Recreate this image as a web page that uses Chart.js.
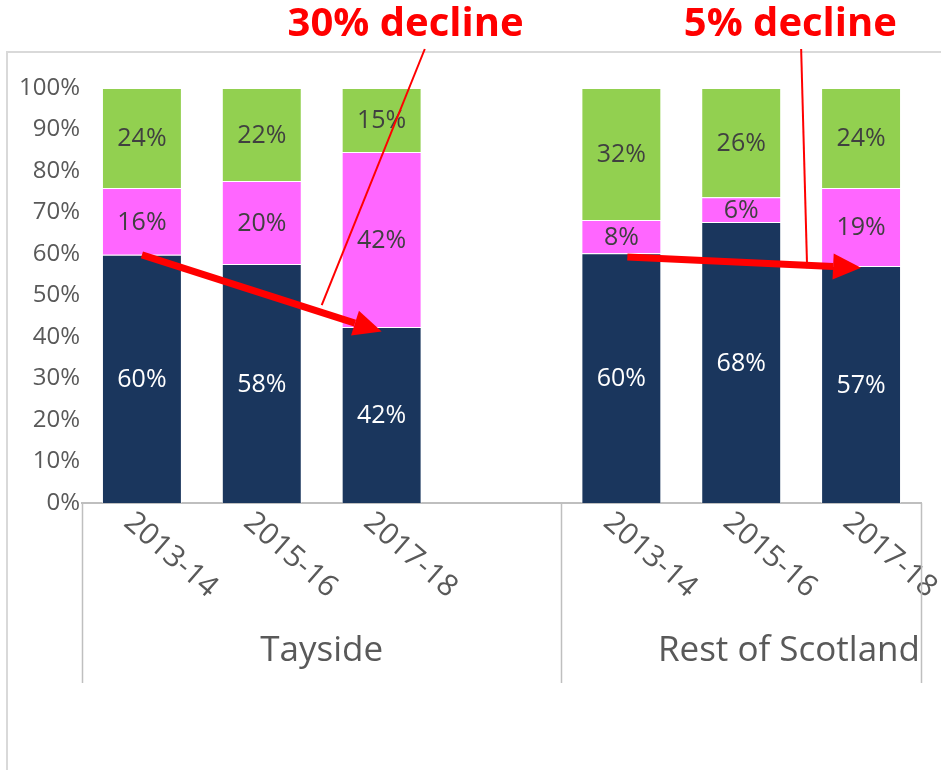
<!DOCTYPE html>
<html>
<head>
<meta charset="utf-8">
<script src="https://cdn.jsdelivr.net/npm/chart.js@4.4.1/dist/chart.umd.min.js"></script>
<style>
  html, body { margin: 0; padding: 0; background: #fff; }
</style>
</head>
<body>
<canvas id="chartDecline" width="941" height="770"></canvas>
<script>
// ---------- data ----------
// the empty slot is the gap between the two groups
const periods = ['2013-14', '2015-16', '2017-18', '', '2013-14', '2015-16', '2017-18'];
const groupNames = ['Tayside', 'Rest of Scotland'];
const groupFirst = [0, 4];   // first slot of each group
const groupLast = [3, 6];    // last slot of each group

const seriesNames = ['Series 1', 'Series 2', 'Series 3'];
const bottomValues = [59.8, 57.6, 42.4, null, 60.2, 67.7, 57.1];
const middleValues = [16.1, 20.0, 42.2, null, 8.0, 6.0, 18.8];
const topValues = [24.1, 22.4, 15.4, null, 31.8, 26.3, 24.1];

const yMax = 100;
const yStep = 10;

// annotations: [slot index, value]
const declineLabels = ['30% decline', '5% decline'];
const arrowFrom = [[0, 59.8], [4.05, 59.3]];
const arrowTo = [[2, 41.3], [6, 56.7]];
const calloutAt = [[1.5, 47.7], [5.55, 56.6]];
const calloutTop = [2.36, 5.5];
const labelCenter = [2.2, 5.41];

// ---------- style ----------
const FONT = "'Open Sans', 'DejaVu Sans', sans-serif";
const colNavy = '#1A365D';
const colPink = '#FF66FF';
const colGreen = '#92D050';
const colText = '#595959';
const colLine = '#BFBFBF';

function xAt(chart, i) {
    const s = chart.scales.x;
    const p0 = s.getPixelForValue(0), p1 = s.getPixelForValue(1);
    return p0 + i * (p1 - p0);
}

function drawArrow(ctx, x1, y1, x2, y2) {
    const ang = Math.atan2(y2 - y1, x2 - x1);
    const headLen = 28, headW = 13;
    const bx = x2 - headLen * Math.cos(ang), by = y2 - headLen * Math.sin(ang);
    ctx.strokeStyle = '#FF0000';
    ctx.fillStyle = '#FF0000';
    ctx.lineWidth = 7;
    ctx.beginPath();
    ctx.moveTo(x1, y1);
    ctx.lineTo(bx, by);
    ctx.stroke();
    ctx.beginPath();
    ctx.moveTo(x2, y2);
    ctx.lineTo(bx + headW * Math.sin(ang), by - headW * Math.cos(ang));
    ctx.lineTo(bx - headW * Math.sin(ang), by + headW * Math.cos(ang));
    ctx.closePath();
    ctx.fill();
}

// bar value labels
const valueLabels = {
    id: 'valueLabels',
    afterDatasetsDraw(chart) {
        const ctx = chart.ctx;
        ctx.save();
        ctx.font = '25px ' + FONT;
        ctx.textAlign = 'center';
        ctx.textBaseline = 'middle';
        chart.data.datasets.forEach((ds, di) => {
            const meta = chart.getDatasetMeta(di);
            meta.data.forEach((bar, i) => {
                const v = ds.data[i];
                if (v === null) return;
                ctx.fillStyle = di === 0 ? '#FFFFFF' : '#404040';
                ctx.fillText(Math.round(v) + '%', bar.x, (bar.y + bar.base) / 2 + 1);
            });
        });
        ctx.restore();
    }
};

// frame, category labels, group labels, arrows and callouts
const overlay = {
    id: 'overlay',
    beforeDraw(chart) {
        const ctx = chart.ctx;
        ctx.save();
        ctx.strokeStyle = '#D9D9D9';
        ctx.lineWidth = 2;
        ctx.strokeRect(7, 52, 1000, 1000);
        ctx.restore();
    },
    afterDraw(chart) {
        const ctx = chart.ctx;
        const area = chart.chartArea;
        const ys = chart.scales.y;
        const slot = xAt(chart, 1) - xAt(chart, 0);
        ctx.save();

        // rotated period labels
        ctx.fillStyle = colText;
        ctx.font = '30px ' + FONT;
        ctx.textAlign = 'left';
        ctx.textBaseline = 'top';
        periods.forEach((p, i) => {
            if (!p) return;
            ctx.save();
            ctx.translate(xAt(chart, i) - 4, area.bottom + 4);
            ctx.rotate(41 * Math.PI / 180);
            ctx.fillText(p, 0, 0);
            ctx.restore();
        });

        // group separators and names
        ctx.strokeStyle = colLine;
        ctx.lineWidth = 1.5;
        const edges = [xAt(chart, groupFirst[0]) - slot / 2];
        groupLast.forEach(l => edges.push(xAt(chart, l) + slot / 2));
        edges.forEach(x => {
            ctx.beginPath();
            ctx.moveTo(Math.round(x) + 0.5, area.bottom);
            ctx.lineTo(Math.round(x) + 0.5, area.bottom + 180);
            ctx.stroke();
        });
        ctx.font = '35px ' + FONT;
        ctx.textBaseline = 'middle';
        groupNames.forEach((g, k) => {
            const l = xAt(chart, groupFirst[k]) - slot / 2;
            const r = xAt(chart, groupLast[k]) + slot / 2;
            if (k === groupNames.length - 1) {
                // the last name runs against the right edge
                ctx.textAlign = 'right';
                ctx.fillText(g, r - 1, area.bottom + 148);
            } else {
                ctx.textAlign = 'center';
                ctx.fillText(g, (l + r) / 2, area.bottom + 148);
            }
        });

        // arrows
        arrowFrom.forEach((a, k) => {
            const b = arrowTo[k];
            drawArrow(ctx, xAt(chart, a[0]), ys.getPixelForValue(a[1]),
                xAt(chart, b[0]), ys.getPixelForValue(b[1]));
        });

        // callout lines and text
        ctx.strokeStyle = '#FF0000';
        ctx.lineWidth = 2;
        calloutAt.forEach((c, k) => {
            ctx.beginPath();
            ctx.moveTo(xAt(chart, calloutTop[k]), 49);
            ctx.lineTo(xAt(chart, c[0]), ys.getPixelForValue(c[1]));
            ctx.stroke();
        });
        ctx.fillStyle = '#FF0000';
        ctx.font = 'bold 40px ' + FONT;
        ctx.textAlign = 'center';
        ctx.textBaseline = 'middle';
        declineLabels.forEach((t, k) => {
            ctx.fillText(t, xAt(chart, labelCenter[k]), 25);
        });
        ctx.restore();
    }
};

function makeDataset(label, data, color) {
    return {
        label: label,
        data: data,
        backgroundColor: color,
        borderColor: 'rgba(255,255,255,0.55)',
        borderWidth: 1,
        barPercentage: 0.667,
        categoryPercentage: 1.0
    };
}

const ctx = document.getElementById('chartDecline').getContext('2d');
new Chart(ctx, {
    type: 'bar',
    data: {
        labels: periods,
        datasets: [
            makeDataset(seriesNames[0], bottomValues, colNavy),
            makeDataset(seriesNames[1], middleValues, colPink),
            makeDataset(seriesNames[2], topValues, colGreen)
        ]
    },
    options: {
        responsive: false,
        animation: false,
        layout: { padding: { top: 88, right: 20, left: 0, bottom: 0 } },
        plugins: {
            legend: { display: false },
            tooltip: { enabled: false }
        },
        scales: {
            x: {
                stacked: true,
                grid: { display: false, drawTicks: false },
                border: { display: true, color: colLine, width: 2 },
                ticks: { display: false },
                afterFit: s => { s.height = 267; }
            },
            y: {
                stacked: true,
                min: 0,
                max: yMax,
                grid: { display: false, drawTicks: false },
                border: { display: false },
                ticks: {
                    stepSize: yStep,
                    padding: 2,
                    color: colText,
                    font: { family: FONT, size: 24 },
                    callback: v => v + '%'
                },
                afterFit: s => { s.width = 82; }
            }
        }
    },
    plugins: [valueLabels, overlay]
});
</script>
</body>
</html>
